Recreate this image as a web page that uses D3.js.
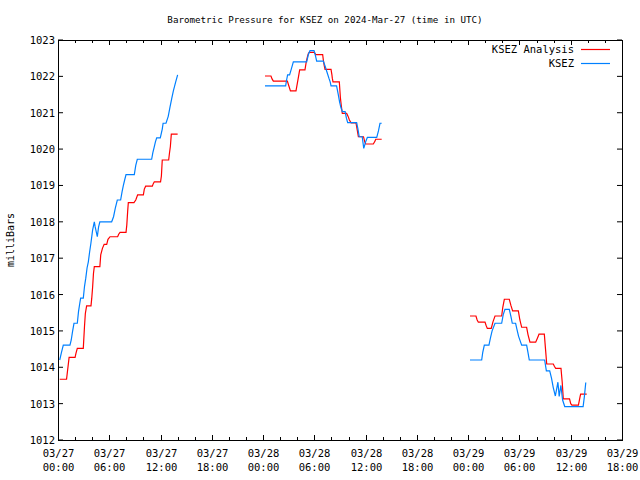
<!DOCTYPE html>
<html><head><meta charset="utf-8">
<script src="https://cdn.jsdelivr.net/npm/d3@7"></script>
<style>body{margin:0;background:#fff}svg{display:block}</style>
</head><body>
<svg id="c" width="640" height="480"></svg>
<script>
// hours since 2024-03-27 00:00 UTC
const baseTime = Date.UTC(2024, 2, 27, 0, 0);
const analysisHours = [0.2,1.0,1.3,2.0,2.1,2.26,2.96,3.1,3.2,3.35,3.86,3.95,4.05,4.15,4.25,4.9,5.0,5.2,5.4,5.7,5.85,6.09,6.98,7.1,7.26,7.96,8.05,8.15,8.23,8.89,9.1,9.32,9.99,10.1,10.26,11.04,11.15,11.27,12.0,12.1,12.2,12.95,13.05,13.15,13.26,14.0,
 24.22,24.92,25.05,25.2,26.84,27.0,27.2,27.85,28.0,28.15,28.28,28.9,29.05,29.2,29.3,29.4,30.0,30.15,30.97,31.05,31.15,31.25,31.95,32.05,32.1,32.18,32.92,33.05,33.15,33.27,33.78,33.95,34.1,34.3,34.87,35.0,35.15,35.75,35.9,36.0,36.9,37.1,37.18,37.88,
 48.21,48.91,49.05,49.19,49.97,50.1,50.24,50.7,50.9,51.14,51.92,52.05,52.23,52.81,53.0,53.2,53.87,54.05,54.26,54.84,55.0,55.23,55.9,56.1,56.29,56.91,57.05,57.19,57.96,58.1,58.24,58.86,59.0,59.13,59.86,60.0,60.14,60.9,61.1,61.16,61.87];
const analysisValues = [1013.67,1013.67,1014.27,1014.27,1014.38,1014.52,1014.52,1015.12,1015.48,1015.69,1015.69,1015.9,1016.2,1016.58,1016.77,1016.77,1017.09,1017.27,1017.38,1017.38,1017.52,1017.59,1017.59,1017.66,1017.71,1017.71,1017.91,1018.28,1018.53,1018.53,1018.6,1018.74,1018.74,1018.9,1018.98,1018.98,1019.05,1019.1,1019.1,1019.26,1019.7,1019.7,1019.9,1020.07,1020.41,1020.41,
 1022.01,1022.01,1021.93,1021.87,1021.87,1021.75,1021.6,1021.6,1021.8,1022.0,1022.18,1022.18,1022.4,1022.55,1022.63,1022.66,1022.66,1022.6,1022.6,1022.45,1022.3,1022.19,1022.19,1022.05,1021.95,1021.85,1021.85,1021.4,1021.2,1020.98,1020.98,1020.9,1020.8,1020.72,1020.72,1020.55,1020.34,1020.34,1020.2,1020.14,1020.14,1020.22,1020.27,1020.27,
 1015.41,1015.41,1015.3,1015.24,1015.24,1015.15,1015.07,1015.07,1015.25,1015.41,1015.41,1015.65,1015.87,1015.87,1015.7,1015.55,1015.55,1015.3,1015.1,1015.1,1014.9,1014.69,1014.69,1014.8,1014.91,1014.91,1014.5,1014.09,1014.09,1014.02,1013.97,1013.97,1013.6,1013.13,1013.13,1013.0,1012.96,1012.96,1013.2,1013.26,1013.26];
const ksezHours = [0.2,0.4,0.62,1.4,1.55,1.7,1.87,2.26,2.4,2.55,2.65,2.96,3.1,3.25,3.4,3.55,3.7,3.85,4.05,4.25,4.35,4.6,4.75,4.9,6.28,6.5,6.7,6.94,7.33,7.5,7.65,7.8,7.96,8.93,9.1,9.28,10.96,11.1,11.25,11.4,11.55,11.97,12.2,12.3,12.64,12.9,13.1,13.3,13.5,13.75,14.0,
 24.22,26.64,26.75,26.87,27.1,27.3,27.54,29.1,29.3,29.49,29.96,30.1,30.27,31.05,31.3,31.5,31.7,31.85,31.95,32.6,32.8,32.95,33.1,33.27,33.6,33.75,33.9,34.95,35.1,35.25,35.6,35.78,36.0,36.2,37.3,37.5,37.68,37.88,
 48.21,49.58,49.7,49.89,50.43,50.6,50.8,51.14,51.92,52.1,52.3,52.81,53.0,53.16,53.55,53.7,53.9,54.26,54.84,55.0,55.15,56.95,57.15,57.54,57.75,57.95,58.2,58.5,58.65,58.85,59.05,59.3,61.45,61.6,61.76];
const ksezValues = [1014.2,1014.4,1014.61,1014.61,1014.75,1014.98,1015.21,1015.21,1015.53,1015.76,1015.9,1015.9,1016.22,1016.45,1016.73,1016.9,1017.17,1017.41,1017.77,1018.0,1017.86,1017.59,1017.86,1018.0,1018.0,1018.14,1018.37,1018.6,1018.6,1018.83,1019.0,1019.15,1019.3,1019.3,1019.55,1019.72,1019.72,1019.9,1020.05,1020.2,1020.31,1020.31,1020.55,1020.71,1020.71,1020.9,1021.15,1021.38,1021.6,1021.83,1022.04,
 1021.74,1021.74,1021.9,1022.04,1022.04,1022.2,1022.4,1022.4,1022.6,1022.71,1022.71,1022.6,1022.42,1022.42,1022.25,1022.1,1021.95,1021.85,1021.74,1021.74,1021.5,1021.3,1021.15,1021.03,1021.03,1020.85,1020.73,1020.73,1020.55,1020.34,1020.34,1020.02,1020.2,1020.32,1020.32,1020.5,1020.71,1020.71,
 1014.2,1014.2,1014.4,1014.61,1014.61,1014.8,1015.0,1015.21,1015.21,1015.45,1015.59,1015.59,1015.4,1015.21,1015.21,1015.05,1014.85,1014.61,1014.61,1014.4,1014.2,1014.2,1013.9,1013.9,1013.7,1013.45,1013.21,1013.59,1013.2,1013.5,1013.1,1012.92,1012.92,1013.2,1013.58];
const seriesNames = ["KSEZ Analysis", "KSEZ"];
const seriesColors = ["#ff0000", "#0080ff"];
const yTicks = [1012,1013,1014,1015,1016,1017,1018,1019,1020,1021,1022,1023];
const xStartHour = 0, xEndHour = 66;
const titleText = "Barometric Pressure for KSEZ on 2024-Mar-27 (time in UTC)";
const yLabelText = "milliBars";

const toDate = h => new Date(baseTime + h * 3600000);
const svg = d3.select("#c");
const L = 58, R = 622, T = 40, B = 440;
const font = "'DejaVu Sans Mono', 'Liberation Mono', monospace";

const x = d3.scaleUtc().domain([toDate(xStartHour), toDate(xEndHour)]).range([L, R]);
const y = d3.scaleLinear().domain([1012, 1023]).range([B, T]);

// title
svg.append("text").attr("x", 325).attr("y", 23).attr("text-anchor", "middle")
  .attr("font-family", font).attr("font-size", 9.2).text(titleText);
// y label
svg.append("text").attr("transform", "translate(14,240) rotate(-90)").attr("text-anchor", "middle")
  .attr("font-family", font).attr("font-size", 10).text(yLabelText);

// y ticks & labels
const gy = svg.append("g");
yTicks.forEach(v => {
  gy.append("line").attr("x1", L).attr("x2", L + 5).attr("y1", y(v)).attr("y2", y(v)).attr("stroke", "#000");
  gy.append("line").attr("x1", R).attr("x2", R - 5).attr("y1", y(v)).attr("y2", y(v)).attr("stroke", "#000");
  gy.append("text").attr("x", 55).attr("y", y(v) + 4).attr("text-anchor", "end")
    .attr("font-family", font).attr("font-size", 10.5).text(v);
});

// x ticks
const minorTicks = d3.range(xStartHour, xEndHour + 0.01, 2).map(toDate);
const majorTicks = d3.range(xStartHour, xEndHour + 0.01, 6).map(toDate);
const gx = svg.append("g");
minorTicks.forEach(d => {
  const px = Math.round(x(d)) + 0.5;
  gx.append("line").attr("x1", px).attr("x2", px).attr("y1", B).attr("y2", B - 3).attr("stroke", "#000");
  gx.append("line").attr("x1", px).attr("x2", px).attr("y1", T).attr("y2", T + 3).attr("stroke", "#000");
});
const fmtD = d3.utcFormat("%m/%d"), fmtT = d3.utcFormat("%H:%M");
majorTicks.forEach(d => {
  const px = Math.round(x(d)) + 0.5;
  gx.append("line").attr("x1", px).attr("x2", px).attr("y1", B).attr("y2", B - 5).attr("stroke", "#000");
  gx.append("line").attr("x1", px).attr("x2", px).attr("y1", T).attr("y2", T + 5).attr("stroke", "#000");
  const t = gx.append("text").attr("text-anchor", "middle").attr("font-family", font).attr("font-size", 10.5);
  t.append("tspan").attr("x", px).attr("y", 457).text(fmtD(d));
  t.append("tspan").attr("x", px).attr("y", 471).text(fmtT(d));
});

// border
svg.append("rect").attr("x", L + 0.5).attr("y", T + 0.5).attr("width", R - L).attr("height", B - T)
  .attr("fill", "none").attr("stroke", "#000");

// series
function build(hours, values) {
  return hours.map((h, i) => ({ t: toDate(h), h: h, v: values[i] }));
}
const series = [build(analysisHours, analysisValues), build(ksezHours, ksezValues)];
series.forEach((data, si) => {
  // break into segments where gap > 3 h
  const segs = [];
  let cur = [];
  data.forEach((d, i) => {
    if (i > 0 && d.h - data[i - 1].h > 3) { segs.push(cur); cur = []; }
    cur.push(d);
  });
  segs.push(cur);
  const line = d3.line().x(d => x(d.t)).y(d => y(d.v));
  segs.forEach(s => {
    svg.append("path").attr("d", line(s)).attr("fill", "none")
      .attr("stroke", seriesColors[si]).attr("stroke-width", 1.2);
  });
});

// legend
seriesNames.forEach((n, i) => {
  const ly = 49 + i * 14;
  svg.append("text").attr("x", 574).attr("y", ly + 4).attr("text-anchor", "end")
    .attr("font-family", font).attr("font-size", 10.5).text(n);
  svg.append("line").attr("x1", 581).attr("x2", 610).attr("y1", ly + 0.5).attr("y2", ly + 0.5)
    .attr("stroke", seriesColors[i]).attr("stroke-width", 1.2);
});
</script>
</body></html>
